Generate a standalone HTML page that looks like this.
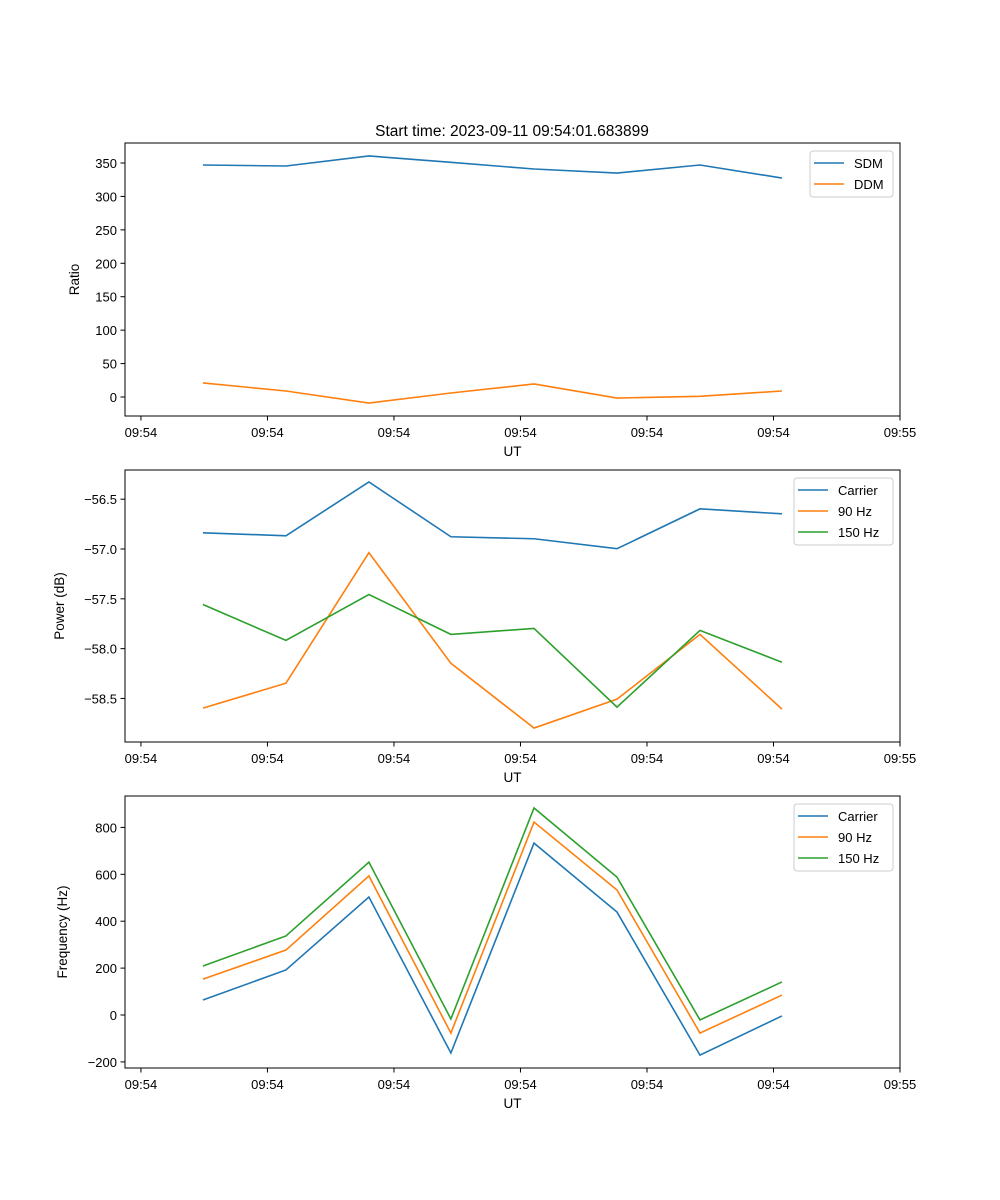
<!DOCTYPE html>
<html><head><meta charset="utf-8"><style>
body{margin:0;background:#fff}
svg{display:block;font-family:"Liberation Sans","DejaVu Sans",sans-serif}
</style></head><body>
<svg id="fig" width="1000" height="1200" xmlns="http://www.w3.org/2000/svg">
<rect width="1000" height="1200" fill="#fff"/>
<text x="512" y="136" font-size="15.5" text-anchor="middle">Start time: 2023-09-11 09:54:01.683899</text>
</svg>
<script>
// shared x (seconds after 09:54:00)
const times = [4.90, 11.46, 18.02, 24.5, 31.07, 37.63, 44.19, 50.67];
const xTicks = [0, 10, 20, 30, 40, 50, 60];
const xTickLabels = ["09:54","09:54","09:54","09:54","09:54","09:54","09:55"];
// panel 1
const sdm = [347, 345.5, 360.5, 351, 341, 335, 347, 327.5];
const ddm = [21, 9, -9, 6, 19.5, -1.5, 1, 9];
const ratioTicks = [0, 50, 100, 150, 200, 250, 300, 350];
// panel 2
const powCarrier = [-56.837, -56.867, -56.327, -56.877, -56.897, -56.997, -56.597, -56.647];
const pow90 = [-58.597, -58.347, -57.037, -58.147, -58.797, -58.507, -57.857, -58.607];
const pow150 = [-57.557, -57.917, -57.457, -57.857, -57.797, -58.587, -57.817, -58.137];
const powTicks = [-56.5, -57.0, -57.5, -58.0, -58.5];
// panel 3
const freqCarrier = [64, 192, 503, -162, 733, 439, -171, -4];
const freq90 = [153, 277, 593, -77, 823, 533, -77, 85];
const freq150 = [209, 337, 652, -17, 883, 588, -21, 141];
const freqTicks = [-200, 0, 200, 400, 600, 800];

const NS = "http://www.w3.org/2000/svg";
const svg = document.getElementById('fig');
function mk(tag, attrs, parent) {
  const e = document.createElementNS(NS, tag);
  for (const k in attrs) e.setAttribute(k, attrs[k]);
  (parent || svg).appendChild(e);
  return e;
}
const L = 125, R = 900, X0 = -1.26, X1 = 60;
const xs = v => L + (v - X0) / (X1 - X0) * (R - L);

function panel(name, top, bottom, y0, y1, ticks, tickFmt, ylabel, ylabelX, series, legend) {
  const ys = v => bottom - (v - y0) / (y1 - y0) * (bottom - top);
  const g = mk('g', {});
  
  
  series.forEach(s => {
    const p = mk('polyline', {points: s.vals.map((v, i) => xs(times[i]) + ',' + ys(v)).join(' '), fill: 'none', stroke: s.color, 'stroke-width': 1.6}, g);
    
    
  });
  const box = mk('rect', {x: L, y: top, width: R - L, height: bottom - top, fill: 'none', stroke: '#000', 'stroke-width': 1}, g);
  
  
  xTicks.forEach((t, i) => {
    const x = xs(t);
    mk('line', {x1: x, x2: x, y1: bottom, y2: bottom + 4.5, stroke: '#000'}, g);
    const tx = mk('text', {x: x, y: bottom + 21, 'font-size': 13, 'text-anchor': 'middle'}, g);
    tx.textContent = xTickLabels[i];
    
    
  });
  const xl = mk('text', {x: (L + R) / 2, y: bottom + 40, 'font-size': 13.5, 'text-anchor': 'middle'}, g);
  xl.textContent = 'UT';
  
  
  ticks.forEach(t => {
    const y = ys(t);
    mk('line', {x1: L - 4.5, x2: L, y1: y, y2: y, stroke: '#000'}, g);
    const tx = mk('text', {x: L - 8, y: y + 5, 'font-size': 13, 'text-anchor': 'end'}, g);
    tx.textContent = tickFmt(t);
    
    
  });
  const cy = (top + bottom) / 2;
  const yl = mk('text', {x: ylabelX, y: cy, 'font-size': 13.5, 'text-anchor': 'middle', transform: 'rotate(-90 ' + ylabelX + ' ' + cy + ')'}, g);
  yl.textContent = ylabel;
  
  
  // legend
  const lg = mk('g', {}, g);
  
  
  mk('rect', {x: legend.x, y: top + 8, width: 893 - legend.x, height: series.length * 21 + 4, rx: 3, fill: '#fff', stroke: '#ccc'}, lg);
  series.forEach((s, i) => {
    const y = top + 20 + i * 21;
    mk('line', {x1: legend.x + 4, x2: legend.x + 34, y1: y, y2: y, stroke: s.color, 'stroke-width': 1.6}, lg);
    const t = mk('text', {x: legend.x + 44, y: y + 5, 'font-size': 13}, lg);
    t.textContent = s.label;
    
    
  });
}
const fmtMinus = d => v => (v < 0 ? '\u2212' : '') + Math.abs(v).toFixed(d);
panel('ratio', 143, 416, -28.4, 379.9, ratioTicks, fmtMinus(0), 'Ratio', 79,
  [{key:'sdm', label:'SDM', vals:sdm, color:'#1f77b4'}, {key:'ddm', label:'DDM', vals:ddm, color:'#ff7f0e'}], {x:810});
panel('power', 470, 742, -58.937, -56.207, powTicks, fmtMinus(1), 'Power (dB)', 64,
  [{key:'carrier', label:'Carrier', vals:powCarrier, color:'#1f77b4'}, {key:'90hz', label:'90 Hz', vals:pow90, color:'#ff7f0e'}, {key:'150hz', label:'150 Hz', vals:pow150, color:'#2ca02c'}], {x:794});
panel('frequency', 796, 1068, -226, 934, freqTicks, fmtMinus(0), 'Frequency (Hz)', 67,
  [{key:'carrier', label:'Carrier', vals:freqCarrier, color:'#1f77b4'}, {key:'90hz', label:'90 Hz', vals:freq90, color:'#ff7f0e'}, {key:'150hz', label:'150 Hz', vals:freq150, color:'#2ca02c'}], {x:794});
</script>
</body></html>
